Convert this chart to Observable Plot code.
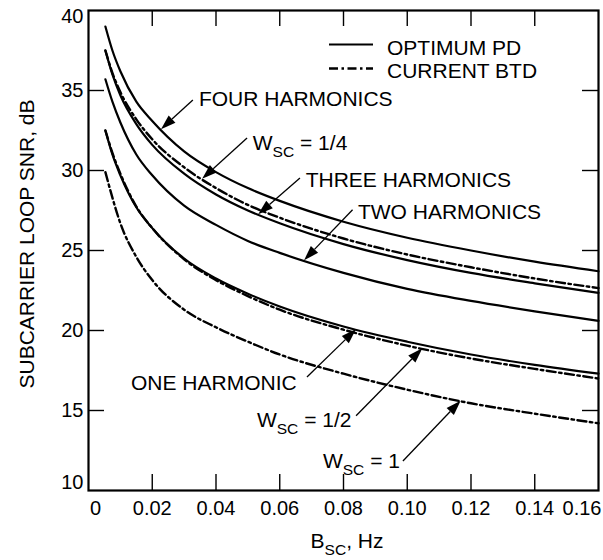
<!DOCTYPE html>
<html><head><meta charset="utf-8">
<script src="https://cdn.jsdelivr.net/npm/d3@7"></script>
<script src="https://cdn.jsdelivr.net/npm/@observablehq/plot@0.6"></script>
<style>
html,body{margin:0;padding:0;background:#fff;}
#chart svg{display:block;}
</style></head><body><div id="chart"></div>
<script>
// ---- data ----
const bsc = [0.0053, 0.0075, 0.01, 0.015, 0.02, 0.03, 0.04, 0.05, 0.06, 0.08, 0.10, 0.12, 0.14, 0.16];
const fourHarmonicsPD  = [39.0, 37.5, 36.2, 34.3, 33.1, 31.2, 29.9, 28.9, 28.1, 26.8, 25.8, 25.0, 24.3, 23.7];
const threeHarmonicsPD = [37.5, 36.0, 34.7, 32.9, 31.6, 29.8, 28.5, 27.5, 26.7, 25.4, 24.4, 23.6, 22.95, 22.35];
const twoHarmonicsPD   = [35.7, 34.3, 33.0, 31.0, 29.7, 27.8, 26.6, 25.6, 24.85, 23.6, 22.6, 21.85, 21.2, 20.6];
const oneHarmonicPD    = [32.5, 31.0, 29.7, 27.7, 26.4, 24.5, 23.25, 22.3, 21.5, 20.25, 19.3, 18.5, 17.85, 17.3];
const btdW14           = [37.5, 36.1, 34.9, 33.2, 31.95, 30.2, 28.9, 27.85, 27.05, 25.75, 24.75, 23.95, 23.25, 22.65];
const btdW12           = [32.5, 31.1, 29.8, 27.75, 26.4, 24.45, 23.15, 22.15, 21.3, 20.05, 19.05, 18.25, 17.6, 17.0];
const btdW1            = [29.9, 28.3, 26.7, 24.6, 23.15, 21.3, 20.2, 19.3, 18.5, 17.3, 16.3, 15.45, 14.8, 14.2];

const xTicks = [0, 0.02, 0.04, 0.06, 0.08, 0.10, 0.12, 0.14, 0.16];
const xTickLabels = ["0", "0.02", "0.04", "0.06", "0.08", "0.10", "0.12", "0.14", "0.16"];
const yTicks = [10, 15, 20, 25, 30, 35, 40];
const yTickLabels = ["10", "15", "20", "25", "30", "35", "40"];

const legendLabels = ["OPTIMUM PD", "CURRENT BTD"];
const xTitle = [["B", false], ["SC", true], [", Hz", false]];
const yTitle = "SUBCARRIER LOOP SNR, dB";

// annotations: label parts, target curve, arrow tip x, arrow tail (x,y), text left-baseline (x,y)
const annotations = [
  {parts: [["FOUR HARMONICS", false]], curve: "four", tipX: 0.0229, tailX: 0.0329, tailY: 34.38, textX: 0.0348, textY: 34.0},
  {parts: [["W", false], ["SC", true], [" = 1/4", false]], curve: "w14", tipX: 0.0358, tailX: 0.0499, tailY: 32.0, textX: 0.0517, textY: 31.25},
  {parts: [["THREE HARMONICS", false]], curve: "three", tipX: 0.0534, tailX: 0.0665, tailY: 29.5, textX: 0.0683, textY: 28.94},
  {parts: [["TWO HARMONICS", false]], curve: "two", tipX: 0.0678, tailX: 0.0830, tailY: 27.52, textX: 0.0847, textY: 26.94},
  {parts: [["ONE HARMONIC", false]], curve: "one", tipX: 0.0841, tailX: 0.0687, tailY: 17.06, textX: 0.0135, textY: 16.25},
  {parts: [["W", false], ["SC", true], [" = 1/2", false]], curve: "w12", tipX: 0.1049, tailX: 0.0841, tailY: 14.64, textX: 0.0530, textY: 13.94},
  {parts: [["W", false], ["SC", true], [" = 1", false]], curve: "w1", tipX: 0.1169, tailX: 0.0988, tailY: 11.81, textX: 0.0737, textY: 11.375}
];

// ---- build tables ----
const curves = [
  {key: "four", values: fourHarmonicsPD, kind: "pd"},
  {key: "three", values: threeHarmonicsPD, kind: "pd"},
  {key: "two", values: twoHarmonicsPD, kind: "pd"},
  {key: "one", values: oneHarmonicPD, kind: "pd"},
  {key: "w14", values: btdW14, kind: "btd"},
  {key: "w12", values: btdW12, kind: "btd"},
  {key: "w1", values: btdW1, kind: "btd"}
];
const rows = curves.flatMap(c => c.values.map((v, i) => ({key: c.key, kind: c.kind, x: bsc[i], y: v})));
const pdRows = rows.filter(r => r.kind === "pd");
const btdRows = rows.filter(r => r.kind === "btd");

const FONT = "'Liberation Sans', Arial, Helvetica, sans-serif";
const DASH = "9,3.5,2.5,3.5";

function interp(values, xv) {
  for (let i = 0; i < bsc.length - 1; i++) {
    if (xv >= bsc[i] && xv <= bsc[i + 1]) {
      const t = (xv - bsc[i]) / (bsc[i + 1] - bsc[i]);
      return values[i] + t * (values[i + 1] - values[i]);
    }
  }
  return values[values.length - 1];
}

function addParts(textSel, parts, size) {
  let shifted = false;
  for (const [t, sub] of parts) {
    if (sub) { textSel.append("tspan").attr("font-size", size * 0.74).attr("dy", 7).text(t); shifted = true; }
    else { textSel.append("tspan").attr("dy", shifted ? -7 : 0).text(t); shifted = false; }
  }
}

function annotationMark(index, scales, values, dims) {
  const {x, y} = scales;
  const g = d3.create("svg:g").attr("font-family", FONT).attr("fill", "black").attr("text-anchor", "start");
  for (const a of annotations) {
    const c = curves.find(d => d.key === a.curve);
    const x2 = x(a.tipX), y2 = y(interp(c.values, a.tipX));
    const x1 = x(a.tailX), y1 = y(a.tailY);
    const ang = Math.atan2(y2 - y1, x2 - x1);
    const L = 15, W = 5;
    const bx = x2 - L * Math.cos(ang), by = y2 - L * Math.sin(ang);
    g.append("line").attr("x1", x1).attr("y1", y1).attr("x2", bx).attr("y2", by)
      .attr("stroke", "black").attr("stroke-width", 1.3);
    g.append("path")
      .attr("d", `M${x2},${y2}L${bx + W * Math.sin(ang)},${by - W * Math.cos(ang)}L${bx - W * Math.sin(ang)},${by + W * Math.cos(ang)}Z`)
      .attr("fill", "black");
    const t = g.append("text").attr("x", x(a.textX)).attr("y", y(a.textY)).attr("font-size", 21).attr("text-anchor", "start");
    addParts(t, a.parts, 21);
  }
  return g.node();
}

function chromeMark(index, scales, values, dims) {
  const {width, height, marginLeft, marginRight, marginTop, marginBottom} = dims;
  const g = d3.create("svg:g").attr("font-family", FONT).attr("fill", "black");
  // legend
  const lx0 = 329, lx1 = 373, tx = 387;
  g.append("line").attr("x1", lx0).attr("x2", lx1).attr("y1", 44.5).attr("y2", 44.5)
    .attr("stroke", "black").attr("stroke-width", 2.2);
  g.append("line").attr("x1", lx0).attr("x2", lx1).attr("y1", 68.5).attr("y2", 68.5)
    .attr("stroke", "black").attr("stroke-width", 2.4).attr("stroke-dasharray", DASH);
  g.append("text").attr("x", tx).attr("y", 55).attr("font-size", 21).attr("text-anchor", "start").text(legendLabels[0]);
  g.append("text").attr("x", tx).attr("y", 77.5).attr("font-size", 21).attr("text-anchor", "start").text(legendLabels[1]);
  // x title
  const cx = (marginLeft + width - marginRight) / 2 + 4;
  const xt = g.append("text").attr("x", cx).attr("y", 548).attr("font-size", 21).attr("text-anchor", "middle");
  addParts(xt, xTitle, 21);
  // y title
  const cy = (marginTop + height - marginBottom) / 2 - 6;
  g.append("text").attr("transform", `translate(34,${cy}) rotate(-90)`)
    .attr("text-anchor", "middle").attr("font-size", 21).text(yTitle);
  return g.node();
}

const inner = (arr) => arr.slice(1, -1);

const chart = Plot.plot({
  width: 603,
  height: 560,
  marginLeft: 88,
  marginRight: 5,
  marginTop: 10,
  marginBottom: 70,
  style: {fontFamily: FONT, background: "white", color: "black"},
  x: {domain: [0, 0.16], axis: null},
  y: {domain: [10, 40], axis: null},
  marks: [
    // inward ticks
    Plot.tickX(inner(xTicks), {x: d => d, insetTop: 464, stroke: "black", strokeWidth: 1.4}),
    Plot.tickX(inner(xTicks), {x: d => d, insetBottom: 464, stroke: "black", strokeWidth: 1.4}),
    Plot.tickY(inner(yTicks), {y: d => d, insetRight: 494, stroke: "black", strokeWidth: 1.4}),
    Plot.tickY(inner(yTicks), {y: d => d, insetLeft: 494, stroke: "black", strokeWidth: 1.4}),
    // tick labels
    Plot.text(inner(xTicks), {x: d => d, text: (d, i) => xTickLabels[i + 1], frameAnchor: "bottom", lineAnchor: "top", dy: 10, fontSize: 20, fill: "black"}),
    Plot.text([xTicks[0]], {x: d => d, text: () => xTickLabels[0], frameAnchor: "bottom", lineAnchor: "top", dy: 10, dx: 7, fontSize: 20, fill: "black"}),
    Plot.text([xTicks[xTicks.length - 1]], {x: d => d, text: () => xTickLabels[xTickLabels.length - 1], frameAnchor: "bottom", lineAnchor: "top", textAnchor: "end", dy: 10, dx: 3, fontSize: 20, fill: "black"}),
    Plot.text(inner(yTicks), {y: d => d, text: (d, i) => yTickLabels[i + 1], frameAnchor: "left", textAnchor: "end", dx: -5, fontSize: 20, fill: "black"}),
    Plot.text([yTicks[0]], {y: d => d, text: () => yTickLabels[0], frameAnchor: "left", textAnchor: "end", dx: -5, dy: -8, fontSize: 20, fill: "black"}),
    Plot.text([yTicks[yTicks.length - 1]], {y: d => d, text: () => yTickLabels[yTickLabels.length - 1], frameAnchor: "left", textAnchor: "end", dx: -5, dy: 6, fontSize: 20, fill: "black"}),
    // curves
    Plot.line(pdRows, {x: "x", y: "y", z: "key", stroke: "black", strokeWidth: 2.2, curve: "monotone-x"}),
    Plot.line(btdRows, {x: "x", y: "y", z: "key", stroke: "black", strokeWidth: 2.4, strokeDasharray: DASH, curve: "monotone-x"}),
    Plot.frame({stroke: "black", strokeWidth: 2.2}),
    annotationMark,
    chromeMark
  ]
});
document.getElementById("chart").appendChild(chart);
</script>
</body></html>
